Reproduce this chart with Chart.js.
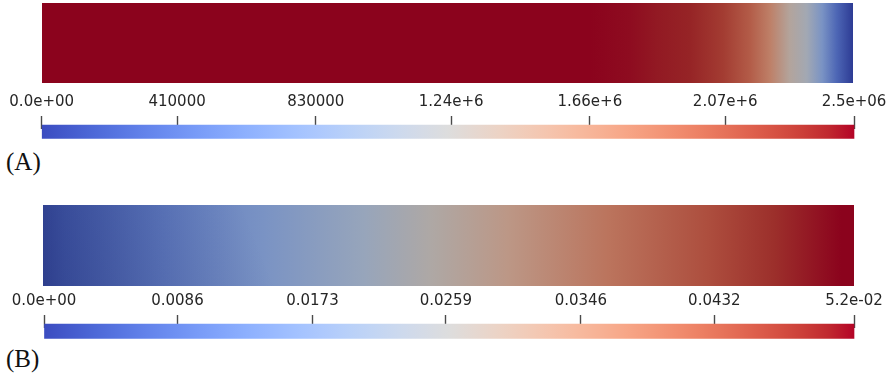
<!DOCTYPE html>
<html>
<head>
<meta charset="utf-8">
<script src="https://cdn.jsdelivr.net/npm/chart.js@4.4.1/dist/chart.umd.min.js"></script>
<style>
  html, body { margin: 0; padding: 0; background: #ffffff; overflow: hidden; }
  #fig { position: relative; width: 887px; height: 380px; overflow: hidden; background: #ffffff; }
  .box { position: absolute; }
  .box canvas { display: block; }
  .tag { position: absolute; left: 6px; font-family: "Liberation Serif", "Times New Roman", serif;
         font-size: 25px; line-height: 25px; color: #111; white-space: nowrap; }
</style>
</head>
<body>
<div id="fig">
  <div class="box" style="left:42px;top:3px;width:811px;height:80px"><canvas id="fieldA"></canvas></div>
  <div class="box" style="left:0;top:88px;width:900px;height:52px"><canvas id="barA"></canvas></div>
  <div class="tag" style="top:149px">(A)</div>

  <div class="box" style="left:42.5px;top:205px;width:811px;height:81px"><canvas id="fieldB"></canvas></div>
  <div class="box" style="left:0;top:287px;width:900px;height:55px"><canvas id="barB"></canvas></div>
  <div class="tag" style="top:346px">(B)</div>
</div>

<script>
// ---- Field (A): value along the normalised length of the domain ----
const fieldA_pos = [0, 0.676, 0.725, 0.758, 0.799, 0.840, 0.873, 0.898, 0.922, 0.943, 0.962, 0.980, 1.0];
const fieldA_val = [2460000, 2460000, 2435000, 2400000, 2360000, 2240000, 2040000, 1770000, 1350000, 1130000, 740000, 320000, 0];
const rangeA = [0, 2460000];
const ticksA = [0, 410000, 830000, 1240000, 1660000, 2070000, 2460000];
const tickLabelsA = ['0.0e+00', '410000', '830000', '1.24e+6', '1.66e+6', '2.07e+6', '2.5e+06'];

// ---- Field (B) ----
const fieldB_pos = [0, 0.026, 0.149, 0.273, 0.396, 0.478, 0.573, 0.697, 0.820, 0.902, 0.984, 1.0];
const fieldB_val = [0.0036, 0.0055, 0.0106, 0.0157, 0.0215, 0.0270, 0.0325, 0.0395, 0.0452, 0.0490, 0.0522, 0.0522];
const rangeB = [0, 0.0522];
const ticksB = [0, 0.0086, 0.0173, 0.0259, 0.0346, 0.0432, 0.0522];
const tickLabelsB = ['0.0e+00', '0.0086', '0.0173', '0.0259', '0.0346', '0.0432', '5.2e-02'];

// Diverging cool-to-warm colour map, 33 evenly spaced entries
const COOL_WARM = [
  [59,76,192],[68,90,204],[77,104,215],[87,117,225],[98,130,234],[108,142,241],[119,154,247],
  [130,165,251],[141,176,254],[152,185,255],[163,194,255],[174,201,253],[184,208,249],
  [194,213,244],[204,217,238],[213,219,230],[221,221,221],[229,216,209],[236,211,197],
  [241,204,185],[245,196,173],[247,187,160],[247,177,148],[247,166,135],[244,154,123],
  [241,141,111],[236,127,99],[229,112,88],[222,96,77],[213,80,66],[203,62,56],[192,40,47],[180,4,38]
];
function cmap(t) {
  t = Math.max(0, Math.min(1, t));
  const f = t * (COOL_WARM.length - 1);
  const i = Math.min(Math.floor(f), COOL_WARM.length - 2);
  const w = f - i;
  const a = COOL_WARM[i], b = COOL_WARM[i + 1];
  return [0, 1, 2].map(k => a[k] + (b[k] - a[k]) * w);
}
function rgb(c, k = 1) {
  return 'rgb(' + c.map(v => Math.round(v * k)).join(',') + ')';
}

const SHADE = 0.77;          // diffuse lighting on the rendered surface
const FONT = { family: '"DejaVu Sans", Verdana, sans-serif', size: 15 };

// Rendered field: one floating bar whose fill follows the sampled values
function fieldChart(id, pos, val, range, overlay) {
  const fill = (ctx) => {
    const chart = ctx.chart;
    if (!chart.chartArea) return null;
    const xs = chart.scales.x;
    const x0 = xs.getPixelForValue(pos[0]);
    const x1 = xs.getPixelForValue(pos[pos.length - 1]);
    const g = chart.ctx.createLinearGradient(x0, 0, x1, 0);
    pos.forEach((p, i) => {
      const off = (xs.getPixelForValue(p) - x0) / (x1 - x0);
      g.addColorStop(off, rgb(cmap((val[i] - range[0]) / (range[1] - range[0])), SHADE));
    });
    return g;
  };
  const datasets = [{
    data: [[pos[0], pos[pos.length - 1]]],
    backgroundColor: fill,
    borderWidth: 0,
    barPercentage: 1,
    categoryPercentage: 1,
    order: 1
  }];
  if (overlay) {
    // darker lower-left corner of the lit surface
    datasets.push({
      data: [[pos[0], pos[pos.length - 1]]],
      backgroundColor: (ctx) => {
        const a = ctx.chart.chartArea;
        if (!a) return null;
        const g = ctx.chart.ctx.createLinearGradient(a.left, a.bottom, a.left + 200, a.top);
        g.addColorStop(0, 'rgba(12,18,80,0.30)');
        g.addColorStop(1, 'rgba(12,18,80,0)');
        return g;
      },
      borderWidth: 0,
      barPercentage: 1,
      categoryPercentage: 1,
      order: 0
    });
  }
  return new Chart(document.getElementById(id), {
    type: 'bar',
    data: { labels: ['field'], datasets },
    options: {
      indexAxis: 'y',
      responsive: true,
      maintainAspectRatio: false,
      animation: false,
      events: [],
      layout: { padding: 0 },
      datasets: { bar: { grouped: false } },
      plugins: { legend: { display: false }, tooltip: { enabled: false } },
      scales: {
        x: { type: 'linear', min: pos[0], max: pos[pos.length - 1], display: false },
        y: { type: 'category', display: false }
      }
    }
  });
}

// Colour legend bar with its tick axis above it
function colorBar(id, range, tickValues, tickLabels, pad, thickness) {
  return new Chart(document.getElementById(id), {
    type: 'bar',
    data: {
      labels: ['scale'],
      datasets: [{
        data: [[range[0], range[1]]],
        barThickness: thickness,
        borderWidth: 0,
        clip: false,
        backgroundColor: (ctx) => {
          const chart = ctx.chart;
          if (!chart.chartArea) return null;
          const xs = chart.scales.x;
          const x0 = xs.getPixelForValue(range[0]);
          const x1 = xs.getPixelForValue(range[1]);
          const g = chart.ctx.createLinearGradient(x0, 0, x1, 0);
          COOL_WARM.forEach((c, i) => g.addColorStop(i / (COOL_WARM.length - 1), rgb(c)));
          return g;
        }
      }]
    },
    options: {
      indexAxis: 'y',
      responsive: true,
      maintainAspectRatio: false,
      animation: false,
      events: [],
      layout: { padding: pad },
      plugins: { legend: { display: false }, tooltip: { enabled: false } },
      scales: {
        x: {
          type: 'linear',
          position: 'top',
          min: range[0],
          max: range[1],
          z: 1,
          border: { display: false },
          grid: { drawOnChartArea: false, drawTicks: true, tickLength: 13, tickColor: '#4a4a4a', tickWidth: 1.4 },
          afterBuildTicks: (scale) => { scale.ticks = tickValues.map(v => ({ value: v })); },
          afterFit: (scale) => { scale.height = 41; },
          ticks: {
            autoSkip: false,
            maxRotation: 0,
            minRotation: 0,
            padding: 5,
            color: '#262626',
            font: FONT,
            callback: (value, index) => tickLabels[index]
          }
        },
        y: { type: 'category', display: false }
      }
    }
  });
}

fieldChart('fieldA', fieldA_pos, fieldA_val, rangeA, false);
colorBar('barA', rangeA, ticksA, tickLabelsA, { left: 41.7, right: 46, top: 0, bottom: 5.7 }, 13.3);

fieldChart('fieldB', fieldB_pos, fieldB_val, rangeB, true);
colorBar('barB', rangeB, ticksB, tickLabelsB, { left: 44, right: 46, top: 0, bottom: 7.7 }, 14.3);
</script>
</body>
</html>
